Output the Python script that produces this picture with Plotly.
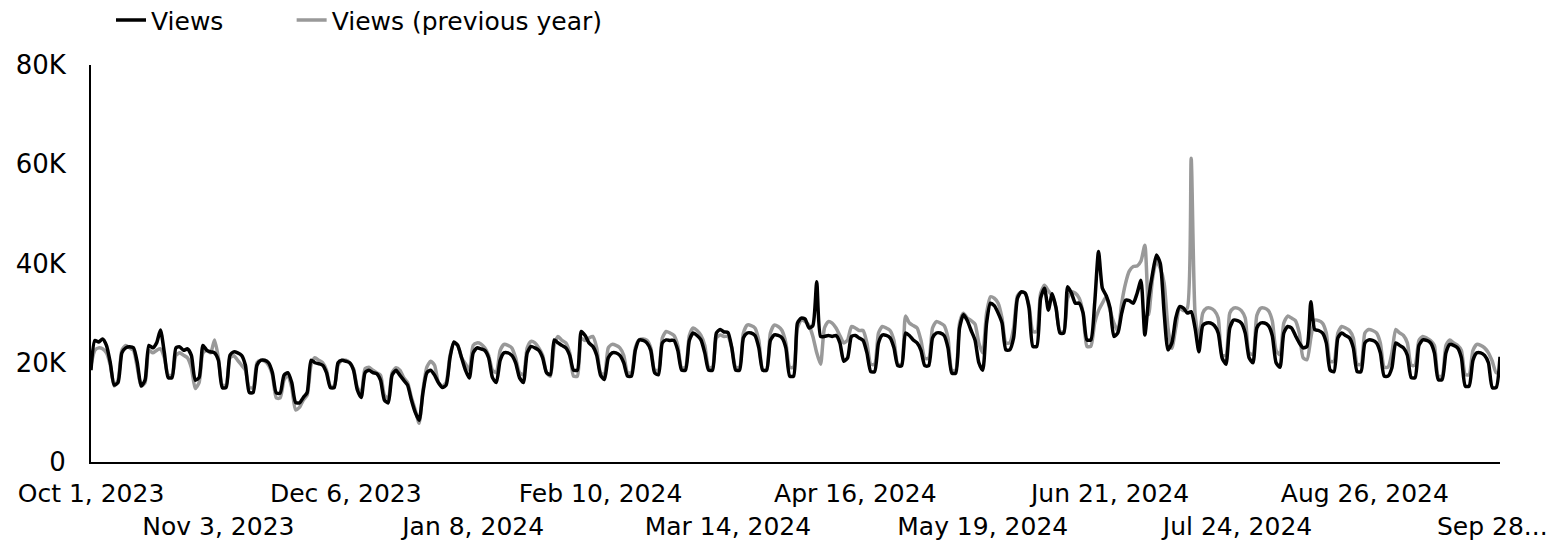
import plotly.graph_objects as go
import pandas as pd

#Daily views (thousands), Oct 1 2023 - Sep 30 2024, one row = one week (Sun..Sat)
views = [
    18.5, 24.5, 24.2, 24.8, 23.5, 20.0, 15.5,
    16.0, 22.0, 23.0, 23.2, 23.0, 20.0, 15.3,
    16.5, 23.5, 23.0, 24.0, 26.6, 22.0, 17.0,
    17.0, 23.0, 23.2, 22.5, 22.8, 21.5, 16.5,
    17.0, 23.5, 22.5, 22.2, 22.0, 20.5, 15.0,
    15.0, 21.5, 22.2, 22.0, 21.5, 19.5, 14.0,
    14.0, 19.5, 20.5, 20.5, 20.0, 18.0, 13.9,
    13.9, 17.5, 18.0, 16.0, 12.0, 11.9, 13.0,
    14.0, 20.5, 20.0, 19.8, 19.5, 18.0, 15.0,
    15.0, 20.0, 20.5, 20.3, 20.0, 18.5, 14.5,
    13.0, 18.0, 18.5, 18.0, 17.8, 16.5, 12.5,
    11.9, 17.5, 18.5, 17.5, 16.5, 15.5, 12.5,
    10.0, 8.4, 14.0, 18.0, 18.5, 17.5, 16.0,
    15.0, 15.5, 21.0, 24.2, 23.5, 21.0, 18.5,
    16.9, 22.0, 23.0, 22.8, 22.5, 21.0, 17.0,
    16.0, 20.5, 22.0, 22.0, 21.5, 20.0, 17.0,
    16.0, 22.0, 23.3, 23.0, 22.5, 21.0, 18.0,
    17.6, 24.6, 24.0, 23.5, 23.0, 21.5, 18.5,
    18.5, 26.3, 25.5, 24.0, 23.3, 21.5, 17.5,
    16.6, 21.0, 22.0, 22.0, 21.5, 20.0, 17.3,
    17.3, 22.5, 24.6, 24.5, 24.0, 22.5, 18.0,
    17.6, 24.0, 24.6, 24.5, 24.5, 22.5, 18.5,
    18.5, 24.5, 26.0, 25.5, 24.6, 22.0, 18.5,
    18.5, 26.0, 26.7, 26.2, 26.1, 23.0, 18.5,
    18.5, 25.0, 26.0, 26.0, 25.5, 23.0, 18.5,
    18.5, 24.5, 25.6, 25.5, 25.0, 23.0, 17.3,
    17.3, 28.0, 29.0, 28.8, 27.0, 27.5, 36.3,
    25.3, 25.3, 25.5, 25.3, 25.5, 24.0, 20.3,
    21.0, 25.3, 25.5, 25.0, 24.5, 22.0, 18.2,
    18.2, 24.0, 25.6, 25.5, 25.0, 23.0, 19.4,
    19.4, 26.0, 25.5, 24.6, 24.0, 22.5, 19.4,
    19.4, 25.0, 26.0, 26.0, 25.5, 23.0, 17.9,
    17.9, 27.0, 29.7, 28.5, 26.5, 24.6, 20.0,
    18.5, 28.0, 32.0, 31.5, 30.0, 28.0, 22.6,
    22.6, 25.0, 33.0, 34.3, 34.0, 31.0, 23.3,
    23.3, 33.0, 35.0, 30.6, 33.9, 31.0, 26.0,
    26.0, 35.3, 34.0, 32.0, 32.0, 30.0, 24.6,
    24.6, 32.0, 42.4, 35.0, 33.5, 31.0, 25.3,
    26.0, 30.0, 32.6, 32.5, 32.0, 34.0, 36.6,
    25.6, 33.0, 38.0, 41.7, 40.0, 30.0, 22.6,
    24.0, 29.0, 31.3, 31.0, 30.0, 30.3, 27.0,
    22.2, 27.5, 28.0, 28.0, 27.5, 26.0, 21.0,
    19.7, 27.0, 28.6, 28.5, 28.0, 26.0, 21.0,
    20.0, 27.0, 28.0, 28.0, 27.5, 25.5, 20.0,
    19.1, 26.0, 27.3, 27.0, 25.5, 24.0, 23.0,
    23.3, 32.3, 26.7, 26.5, 26.0, 24.0, 18.5,
    18.2, 25.0, 26.0, 25.5, 25.0, 23.0, 18.2,
    18.2, 24.0, 24.6, 24.5, 24.0, 22.0, 17.3,
    17.3, 19.0, 24.0, 23.5, 23.0, 21.5, 17.0,
    17.0, 23.5, 24.6, 24.5, 24.0, 22.0, 16.6,
    16.6, 22.0, 23.7, 23.5, 23.0, 21.0, 15.3,
    15.3, 20.5, 22.0, 22.0, 21.5, 20.0, 15.0,
    15.0, 21.2,
]

views_prev = [
    19.5, 22.5, 23.0, 22.8, 22.0, 19.5, 15.3,
    16.5, 22.5, 23.5, 23.0, 22.5, 19.0, 15.3,
    16.0, 22.5, 22.0, 22.5, 22.8, 21.0, 17.5,
    17.5, 21.5, 22.0, 21.5, 21.0, 19.0, 14.8,
    16.0, 22.0, 22.5, 22.0, 24.6, 21.0, 15.5,
    15.5, 21.0, 21.4, 20.5, 19.5, 18.5, 15.0,
    15.0, 20.0, 20.5, 20.3, 19.5, 17.5, 12.9,
    12.9, 16.5, 17.5, 15.0, 10.5, 11.0, 12.5,
    13.5, 19.5, 21.0, 20.5, 20.0, 18.5, 15.3,
    15.3, 19.5, 20.5, 20.5, 20.0, 18.8, 15.0,
    14.0, 18.8, 19.1, 18.5, 18.0, 17.5, 13.5,
    12.8, 18.0, 19.0, 18.5, 17.0, 16.0, 13.0,
    10.5, 7.8, 14.5, 19.1, 20.3, 19.5, 16.0,
    15.3, 16.0, 21.5, 24.0, 23.5, 21.0, 19.8,
    18.5, 23.5, 24.0, 23.8, 23.0, 21.5, 18.5,
    18.0, 22.5, 23.7, 23.5, 23.0, 21.0, 18.0,
    17.6, 23.0, 24.3, 24.0, 23.0, 21.5, 18.0,
    17.3, 23.5, 25.3, 24.5, 24.0, 22.0, 17.3,
    17.3, 24.9, 24.5, 25.0, 25.3, 23.0, 18.0,
    17.6, 23.0, 23.7, 23.5, 23.0, 21.5, 18.0,
    18.0, 23.0, 24.6, 24.8, 24.5, 23.0, 18.5,
    18.5, 25.0, 26.3, 26.0, 25.5, 23.5, 19.0,
    19.1, 25.5, 27.0, 26.5, 25.5, 23.5, 19.1,
    19.1, 25.0, 25.6, 25.3, 25.3, 23.0, 19.1,
    19.1, 26.0, 27.6, 27.5, 27.0, 24.5, 18.5,
    18.5, 26.0, 27.6, 27.3, 26.5, 24.0, 19.1,
    19.1, 27.0, 28.6, 28.3, 27.5, 25.3, 22.0,
    19.7, 27.0, 28.3, 28.0, 27.0, 25.5, 24.0,
    24.6, 27.3, 27.0, 26.5, 26.5, 24.0, 19.7,
    19.7, 26.0, 27.3, 27.0, 26.5, 24.5, 19.7,
    19.7, 29.4, 28.0, 27.5, 27.0, 24.5, 20.9,
    20.9, 27.0, 28.3, 28.0, 27.5, 25.0, 18.5,
    18.5, 28.0, 30.0, 29.0, 28.5, 27.8, 24.0,
    22.0, 30.0, 33.3, 33.0, 32.0, 29.0, 24.0,
    24.0, 27.0, 33.5, 34.3, 34.0, 31.5, 26.3,
    26.3, 34.0, 35.6, 34.5, 33.5, 31.0, 26.3,
    26.3, 33.0, 34.3, 34.0, 33.0, 30.0, 23.3,
    23.3, 28.0, 30.5, 32.0, 33.3, 30.5, 28.0,
    26.3, 32.0, 36.0, 38.5, 39.4, 39.5, 40.5,
    43.7, 29.7, 37.0, 40.5, 39.0, 36.0, 27.0,
    22.9, 27.0, 31.0, 30.5, 31.0, 61.2, 30.0,
    24.6, 30.0, 31.0, 31.0, 30.5, 29.0, 21.5,
    21.5, 30.0, 31.0, 31.0, 30.5, 29.0, 22.0,
    21.7, 29.5, 31.0, 31.0, 30.5, 28.5, 22.5,
    21.6, 28.0, 29.4, 29.0, 28.5, 26.0, 21.0,
    20.6, 25.0, 28.6, 28.5, 28.0, 26.0, 20.3,
    20.3, 26.0, 27.3, 27.0, 26.5, 25.0, 19.7,
    19.7, 26.0, 26.7, 26.5, 26.0, 24.0, 19.1,
    19.1, 22.0, 26.7, 26.0, 25.5, 24.0, 19.5,
    19.5, 24.5, 25.3, 25.0, 24.5, 23.5, 17.3,
    17.3, 23.5, 24.6, 24.0, 23.5, 22.5, 17.6,
    17.6, 22.5, 23.7, 23.5, 23.0, 22.0, 20.3,
    18.0, 18.0,
]

dates = pd.date_range("2023-10-01", periods=len(views), freq="D")

#Axis labels
tick_text = ["Oct 1, 2023", "<br>Nov 3, 2023", "Dec 6, 2023", "<br>Jan 8, 2024",
             "Feb 10, 2024", "<br>Mar 14, 2024", "Apr 16, 2024", "<br>May 19, 2024",
             "Jun 21, 2024", "<br>Jul 24, 2024", "Aug 26, 2024", "<br>Sep 28..."]
tick_dates = dates[::33]
y_ticks = [0, 20, 40, 60, 80]
y_text = ["0", "20K", "40K", "60K", "80K"]

FONT = "DejaVu Sans"

fig = go.Figure()
# previous year drawn first so current year sits on top
fig.add_trace(go.Scatter(x=dates, y=views_prev, name="Views (previous year)", mode="lines",
                         legend="legend2",
                         line=dict(color="#999999", width=3.5, shape="spline", smoothing=0.6)))
fig.add_trace(go.Scatter(x=dates, y=views, name="Views", mode="lines",
                         legend="legend",
                         line=dict(color="#000000", width=3.5, shape="spline", smoothing=0.6)))

leg = dict(orientation="h", xanchor="left", yref="container", y=0.963, yanchor="middle",
           font=dict(family=FONT, size=25, color="#000000"), bgcolor="rgba(0,0,0,0)",
           borderwidth=0)
fig.update_layout(
    width=1552, height=548,
    margin=dict(l=91, r=52, t=65, b=86, autoexpand=False),
    plot_bgcolor="white", paper_bgcolor="white",
    font=dict(family=FONT, size=25, color="#000000"),
    showlegend=True,
    legend=dict(leg, x=0.0142),
    legend2=dict(leg, x=0.1424),
)
fig.update_xaxes(range=[dates[0], dates[-1]], tickvals=tick_dates, ticktext=tick_text,
                 showgrid=False, zeroline=False, showline=True, linecolor="#000000",
                 linewidth=2, ticks="", tickangle=0, automargin=False,
                 ticklabelstandoff=8)
fig.update_yaxes(range=[0, 80], tickvals=y_ticks, ticktext=y_text, tickfont=dict(size=26),
                 showgrid=False, zeroline=False, showline=True, linecolor="#000000",
                 linewidth=2, ticks="", ticklabelstandoff=18, automargin=False)

# page has a default body margin; drop it so the figure fills the window
fig.write_html("out.html", config={"displayModeBar": False},
               post_script="document.body.style.margin='0';")
